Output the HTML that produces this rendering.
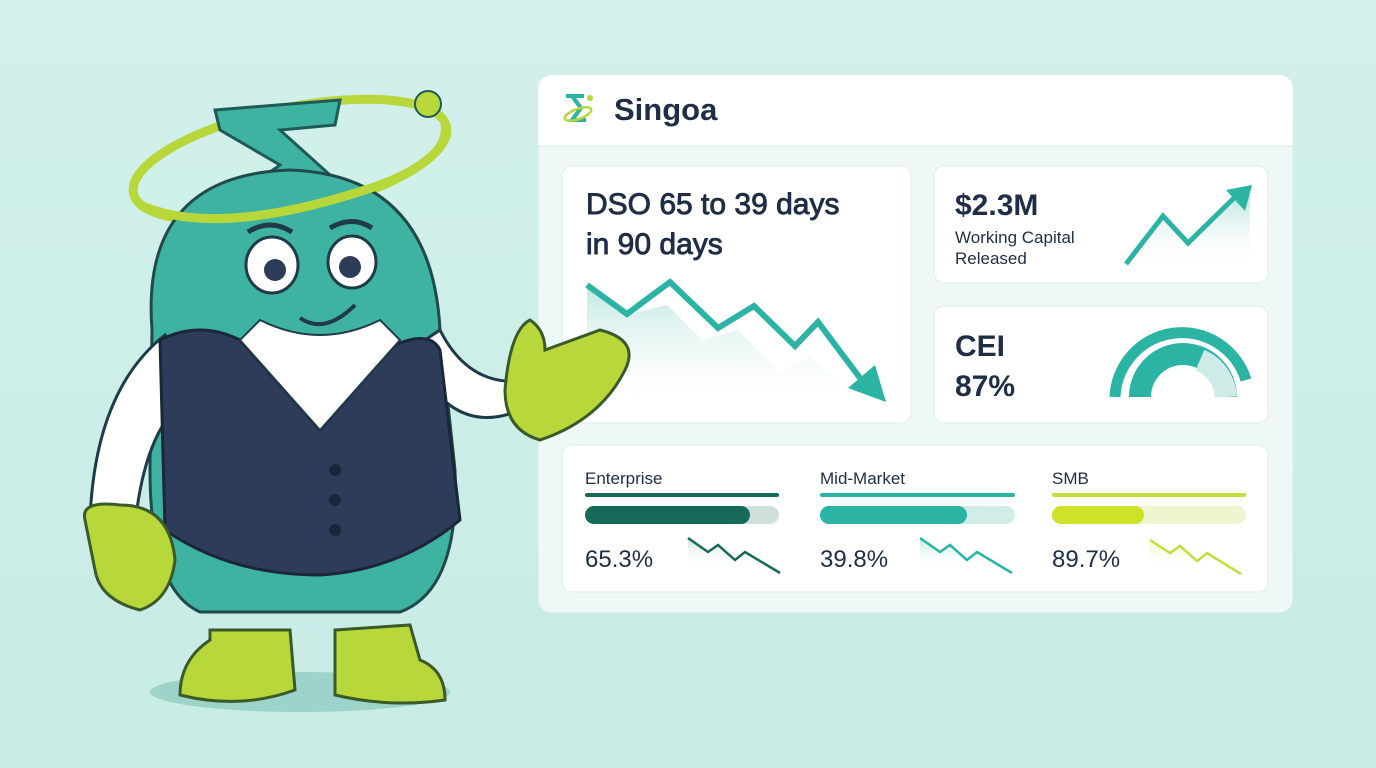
<!DOCTYPE html>
<html><head><meta charset="utf-8"><style>
html,body{margin:0;padding:0;background:#cdeee8;}
svg{display:block}
text{font-family:"Liberation Sans",sans-serif;}
</style></head><body>
<svg width="1376" height="768" viewBox="0 0 1376 768" xmlns="http://www.w3.org/2000/svg">
<defs>
<linearGradient id="bg" x1="0" y1="0" x2="0" y2="1"><stop offset="0" stop-color="#d3f1ec"/><stop offset="1" stop-color="#c8ebe4"/></linearGradient>
<linearGradient id="fillT" x1="0" y1="0" x2="0" y2="1"><stop offset="0" stop-color="#bfe7e1"/><stop offset="1" stop-color="#ffffff" stop-opacity="0"/></linearGradient>
<linearGradient id="fillL" x1="0" y1="0" x2="0" y2="1"><stop offset="0" stop-color="#eef5c8"/><stop offset="1" stop-color="#ffffff" stop-opacity="0"/></linearGradient>
<linearGradient id="fillD" x1="0" y1="0" x2="0" y2="1"><stop offset="0" stop-color="#cfe4de"/><stop offset="1" stop-color="#ffffff" stop-opacity="0"/></linearGradient>
</defs>
<rect width="1376" height="768" fill="url(#bg)"/>

<!-- Panel -->
<rect x="538" y="75" width="755" height="538" rx="14" fill="#eef8f6" stroke="#d6ebe7"/>
<path d="M552 75 H1279 a14 14 0 0 1 14 14 V146 H538 V89 a14 14 0 0 1 14 -14 Z" fill="#ffffff"/>
<line x1="538" y1="146" x2="1293" y2="146" stroke="#dcecea"/>
<!-- logo -->
<path d="M566 96 H584 M572 96 L581 108 L572 120 H586" stroke="#2bb3a3" stroke-width="4" fill="none"/>
<ellipse cx="578" cy="114" rx="14" ry="5" fill="none" stroke="#b8d73a" stroke-width="2.5" transform="rotate(-20 578 114)"/>
<circle cx="590" cy="98" r="3" fill="#b8d73a"/>
<text x="614" y="120" font-size="31" font-weight="bold" fill="#1f2d45">Singoa</text>

<!-- DSO card -->
<rect x="562" y="166" width="349" height="257" rx="10" fill="#ffffff" stroke="#dcecea"/>
<text x="586" y="214" font-size="30" fill="#1f2d45" stroke="#1f2d45" stroke-width="0.9">DSO 65 to 39 days</text>
<text x="586" y="254" font-size="30" fill="#1f2d45" stroke="#1f2d45" stroke-width="0.9">in 90 days</text>
<path d="M587 285 L625 315 L667 305 L702 340 L738 330 L780 372 L810 357 L840 382 L860 395 L860 410 L587 410 Z" fill="url(#fillT)"/>
<polyline points="587,285 627,314 670,282 718,328 754,306 795,346 818,322 860,378" fill="none" stroke="#2bb3a3" stroke-width="6" stroke-linejoin="miter"/>
<polygon points="848,388 886,402 875,365" fill="#2bb3a3"/>

<!-- $2.3M card -->
<rect x="934" y="166" width="334" height="117" rx="10" fill="#ffffff" stroke="#dcecea"/>
<text x="955" y="215" font-size="30" font-weight="bold" fill="#1f2d45">$2.3M</text>
<text x="955" y="243" font-size="17" fill="#1f2d45">Working Capital</text>
<text x="955" y="264" font-size="17" fill="#1f2d45">Released</text>
<path d="M1126 264 L1163 215 L1188 243 L1240 195 L1250 195 L1250 268 L1126 268 Z" fill="url(#fillT)"/>
<polyline points="1126,264 1163,216 1188,243 1236,196" fill="none" stroke="#2bb3a3" stroke-width="5"/>
<polygon points="1226,190 1252,185 1245,211" fill="#2bb3a3"/>

<!-- CEI card -->
<rect x="934" y="306" width="334" height="117" rx="10" fill="#ffffff" stroke="#dcecea"/>
<text x="955" y="356" font-size="30" font-weight="bold" fill="#1f2d45">CEI</text>
<text x="955" y="396" font-size="30" font-weight="bold" fill="#1f2d45">87%</text>
<path d="M1115 397 A67 67 0 0 1 1246 380" fill="none" stroke="#2bb3a3" stroke-width="11"/>
<path d="M1140 397 A43 43 0 0 1 1226 397" fill="none" stroke="#2bb3a3" stroke-width="22"/>
<path d="M1200 360 A43 43 0 0 1 1226 397" fill="none" stroke="#cdebe7" stroke-width="22"/>

<!-- Bottom card -->
<rect x="562" y="445" width="706" height="147" rx="10" fill="#ffffff" stroke="#dcecea"/>
<text x="585" y="484" font-size="17" fill="#1f2d45">Enterprise</text>
<text x="820" y="484" font-size="17" fill="#1f2d45">Mid-Market</text>
<text x="1052" y="484" font-size="17" fill="#1f2d45">SMB</text>
<rect x="585" y="493" width="194" height="4" rx="2" fill="#17695a"/>
<rect x="820" y="493" width="195" height="4" rx="2" fill="#2bb3a3"/>
<rect x="1052" y="493" width="194" height="4" rx="2" fill="#c6dc3c"/>
<rect x="585" y="506" width="194" height="18" rx="9" fill="#cfe0dc"/>
<rect x="585" y="506" width="165" height="18" rx="9" fill="#17695a"/>
<rect x="820" y="506" width="195" height="18" rx="9" fill="#d2ece8"/>
<rect x="820" y="506" width="147" height="18" rx="9" fill="#2bb3a3"/>
<rect x="1052" y="506" width="194" height="18" rx="9" fill="#eef5cf"/>
<rect x="1052" y="506" width="92" height="18" rx="9" fill="#cfe22a"/>
<text x="585" y="567" font-size="24" fill="#1f2d45">65.3%</text>
<text x="820" y="567" font-size="24" fill="#1f2d45">39.8%</text>
<text x="1052" y="567" font-size="24" fill="#1f2d45">89.7%</text>
<path d="M688 538 L708 552 L718 545 L735 560 L745 555 L760 568 L688 568Z" fill="url(#fillD)"/>
<polyline points="688,538 708,552 718,545 735,560 745,552 780,573" fill="none" stroke="#17695a" stroke-width="2.5"/>
<path d="M920 538 L940 552 L950 545 L967 560 L977 555 L990 568 L920 568Z" fill="url(#fillT)"/>
<polyline points="920,538 940,552 950,545 967,560 977,552 1012,573" fill="none" stroke="#2bb3a3" stroke-width="2.5"/>
<path d="M1150 540 L1170 553 L1180 546 L1197 561 L1207 556 L1220 568 L1150 568Z" fill="url(#fillL)"/>
<polyline points="1150,540 1170,553 1180,546 1197,561 1207,553 1241,574" fill="none" stroke="#c6dc3c" stroke-width="2.5"/>

<!-- Mascot -->
<ellipse cx="300" cy="692" rx="150" ry="20" fill="#7fc4b8" opacity="0.6"/>
<ellipse cx="290" cy="160" rx="160" ry="52" fill="none" stroke="#b8d73a" stroke-width="9" transform="rotate(-12 290 160)"/>
<path d="M215 110 L340 100 L335 125 L280 130 L330 175 L260 210 L230 200 L280 165 L220 130 Z" fill="#3fb3a2" stroke="#1f5a56" stroke-width="3"/>
<circle cx="428" cy="104" r="13" fill="#b8d73a" stroke="#1f5a56" stroke-width="2"/>
<!-- body -->
<path d="M152 330 Q140 175 290 170 Q432 175 440 330 L455 470 Q460 590 400 612 L200 612 Q150 590 150 470 Z" fill="#3fb3a2" stroke="#1f4a4a" stroke-width="3"/>
<!-- arms -->
<path d="M165 335 Q95 390 90 520 L135 525 Q145 430 185 400 Z" fill="#ffffff" stroke="#1f3a48" stroke-width="3"/>
<path d="M410 350 Q450 440 520 410 L530 380 Q470 390 440 330 Z" fill="#ffffff" stroke="#1f3a48" stroke-width="3"/>
<!-- vest -->
<path d="M160 340 Q200 320 240 340 L320 430 L395 345 Q430 330 440 350 L460 520 Q400 570 320 575 Q230 575 165 530 Z" fill="#2d3c58" stroke="#1b2638" stroke-width="3"/>
<path d="M240 340 L320 430 L400 340 L380 320 Q320 350 260 320 Z" fill="#ffffff" stroke="#1f3a48" stroke-width="2"/>
<circle cx="335" cy="470" r="6" fill="#1b2638"/><circle cx="335" cy="500" r="6" fill="#1b2638"/><circle cx="335" cy="530" r="6" fill="#1b2638"/>
<!-- face -->
<ellipse cx="272" cy="265" rx="26" ry="28" fill="#fff" stroke="#1f3a48" stroke-width="3"/>
<ellipse cx="352" cy="262" rx="24" ry="26" fill="#fff" stroke="#1f3a48" stroke-width="3"/>
<circle cx="275" cy="270" r="11" fill="#2d3c58"/><circle cx="350" cy="267" r="11" fill="#2d3c58"/>
<path d="M300 318 Q325 335 355 305" fill="none" stroke="#1f3a48" stroke-width="4"/>
<path d="M248 232 Q270 218 292 232 M330 228 Q352 215 372 228" fill="none" stroke="#1f3a48" stroke-width="5"/>
<path d="M140 205 Q220 240 380 185 Q450 158 445 125" fill="none" stroke="#b8d73a" stroke-width="9"/>
<!-- gloves -->
<path d="M85 520 Q80 500 120 505 Q170 505 175 560 Q170 600 140 610 Q100 600 95 570 Z" fill="#b8d73a" stroke="#3a5a2a" stroke-width="3"/>
<path d="M505 390 Q510 330 530 320 Q545 330 545 350 L600 330 Q640 340 625 370 Q600 420 540 440 Q505 430 505 390 Z" fill="#b8d73a" stroke="#3a5a2a" stroke-width="3"/>
<!-- boots -->
<path d="M210 630 L290 630 L295 690 Q240 710 180 695 Q180 660 210 640 Z" fill="#b8d73a" stroke="#3a5a2a" stroke-width="3"/>
<path d="M335 630 L410 625 L420 660 Q445 670 445 700 Q390 708 335 695 Z" fill="#b8d73a" stroke="#3a5a2a" stroke-width="3"/>
</svg>
</body></html>
